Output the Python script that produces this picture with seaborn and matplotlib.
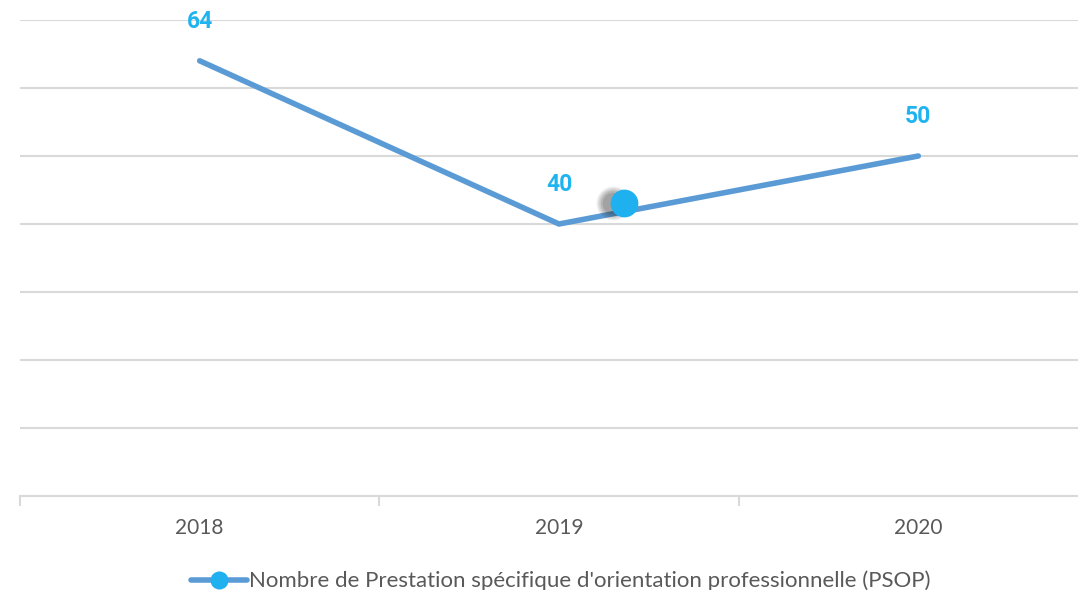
import matplotlib
matplotlib.use("Agg")
import matplotlib.pyplot as plt
from matplotlib.lines import Line2D
import seaborn as sns
import pandas as pd

years = ["2018", "2019", "2020"]
values = [64, 40, 50]
series_name = "Nombre de Prestation spécifique d'orientation professionnelle (PSOP)"
# stray marker visible in the picture, between 2019 and 2020
stray_x = [1.18]
stray_y = [43.1]

sns.set_style("white")
plt.rcParams["font.family"] = ["Lato", "DejaVu Sans"]

line_col = "#5b9bd5"
dot_col = "#1fb0f0"
label_col = "#1fb4f0"
text_col = "#595959"
grid_col = "#d9d9d9"

df = pd.DataFrame({"pos": range(len(years)), "val": values})

fig = plt.figure(figsize=(10.78, 5.9), dpi=100)
ax = fig.add_axes([20 / 1078, 94 / 590, 1078 / 1078, 476 / 590])

sns.lineplot(x="pos", y="val", data=df, color=line_col, linewidth=4, ax=ax,
             solid_capstyle="round", zorder=3)

# data labels
for i, v in enumerate(values):
    ax.annotate(str(v), (i, v), xytext=(0, 20), textcoords="offset points",
                ha="center", va="bottom", fontsize=16.5, fontweight="bold",
                color=label_col, family=["Roboto", "DejaVu Sans"])

# stray dot with a soft shadow
for k, a in enumerate([0.07, 0.09, 0.11, 0.13, 0.15]):
    ax.scatter([x - 0.03 for x in stray_x], stray_y, s=600 - k * 90,
               color="#303030", alpha=a, linewidths=0, zorder=4)
ax.scatter(stray_x, stray_y, s=400, color=dot_col, linewidths=0, zorder=5)

ax.set_xlim(-0.5, 2.5)
ax.set_ylim(0, 70)
ax.set_yticks(range(0, 71, 10))
ax.yaxis.grid(True, color=grid_col, linewidth=1.5)
ax.tick_params(axis="y", left=False, labelleft=False)
ax.set_xticks(range(len(years)))
ax.set_xticklabels(years, fontsize=15, color=text_col)
ax.set_xticks([-0.5, 0.5, 1.5, 2.5], minor=True)
ax.tick_params(axis="x", which="major", bottom=False, length=0, pad=16)
ax.tick_params(axis="x", which="minor", bottom=True, length=7, width=1.5,
               color=grid_col, direction="out")
for s in ["top", "left", "right"]:
    ax.spines[s].set_visible(False)
ax.spines["bottom"].set_color(grid_col)
ax.spines["bottom"].set_linewidth(1.5)
ax.set_xlabel("")
ax.set_ylabel("")

handle = Line2D([], [], color=line_col, linewidth=4, marker="o",
                markersize=13, markerfacecolor=dot_col, markeredgewidth=0)
fig.legend([handle], [series_name], loc="center",
           bbox_to_anchor=(561 / 1078, 1 - 581 / 590), frameon=False,
           fontsize=16, labelcolor=text_col, handlelength=2.5,
           handletextpad=0.1)

fig.savefig("out.png", dpi=100)
